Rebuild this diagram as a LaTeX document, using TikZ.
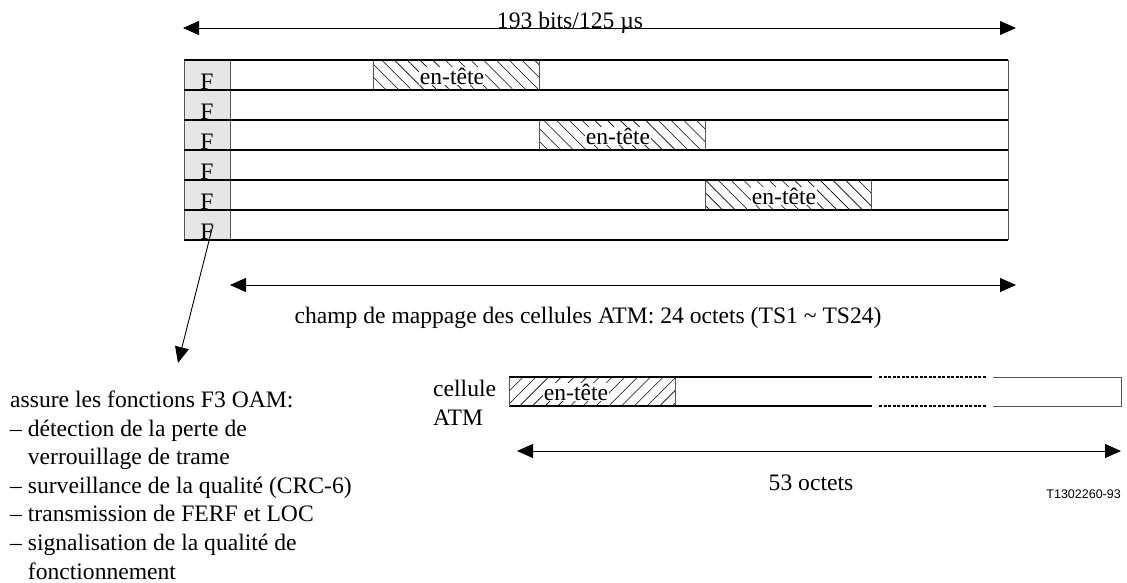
\documentclass[tikz,border=0pt]{standalone}
\usepackage{fontspec}
\setmainfont{Liberation Serif}
\newfontfamily\arialf{Liberation Sans}
\usetikzlibrary{arrows.meta,patterns.meta}
\definecolor{fgray}{HTML}{E6E6E6}
\definecolor{lgray}{HTML}{555555}
\tikzset{
  hline/.style={line width=1.6pt, black},
  vline/.style={line width=1pt, lgray},
  hatchbs/.style={pattern={Lines[angle=-45,distance=9pt,line width=0.6pt]}},
  hatchfs/.style={pattern={Lines[angle=45,distance=9pt,line width=0.6pt]}},
  hbox/.style={line width=0.8pt, lgray},
  lbl/.style={fill=white, inner sep=0.5pt},
  dimarrow/.style={line width=0.9pt, {Triangle[length=16pt,width=14pt]}-{Triangle[length=16pt,width=14pt]}},
  onearrow/.style={line width=0.9pt, -{Triangle[length=16pt,width=14pt]}},
  txt/.style={inner sep=0pt}
}
\begin{document}
\begin{tikzpicture}[x=1pt,y=-1pt, font=\fontsize{23.6}{28.6}\selectfont]
\useasboundingbox (0,0) rectangle (1127,582);

% F column
\fill[fgray] (184,60) rectangle (230,240);
\foreach \i in {0,...,5}{
  \node[txt, anchor=base] (F\i) at (207,{89+30*\i}) {F};
}

% hatched headers in the frame
\fill[hatchbs] (373,60) rectangle (539,90);
\draw[hbox] (373,60) rectangle (539,90);
\node[lbl] (h1) at (452,76) {en-tête};
\fill[hatchbs] (539,120) rectangle (705,150);
\draw[hbox] (539,120) rectangle (705,150);
\node[lbl] (h2) at (618,136) {en-tête};
\fill[hatchbs] (705,180) rectangle (871,210);
\draw[hbox] (705,180) rectangle (871,210);
\node[lbl] (h3) at (784,196) {en-tête};

% frame lines
\draw[vline] (184,60) -- (184,240);
\draw[vline] (230,60) -- (230,240);
\draw[vline] (1008,60) -- (1008,240);
\foreach \y in {60,90,120,150,180,210,240}{
  \draw[hline] (184,\y) -- (1008,\y);
}

% top dimension arrow
\coordinate (tl) at (183,28);
\coordinate (tr) at (1016,28);
\draw[dimarrow] (tl) -- (tr);
\node[txt, anchor=base] (toplbl) at (570,28) {193 bits/125 µs};

% mapping field arrow
\coordinate (ml) at (230,285);
\coordinate (mr) at (1016,285);
\draw[dimarrow] (ml) -- (mr);
\node[txt] (midlbl) at (588,318) {champ de mappage des cellules ATM: 24 octets (TS1 \textasciitilde{} TS24)};

% arrow from last F to OAM text
\coordinate (fstart) at (213,225);
\coordinate (fend) at (178,363);
\draw[onearrow] (fstart) -- (fend);

% OAM text
\node[txt, anchor=base west, align=left] (oam) at (10,579) {assure les fonctions F3 OAM:\\
– détection de la perte de\\
\hphantom{– }verrouillage de trame\\
– surveillance de la qualité (CRC-6)\\
– transmission de FERF et LOC\\
– signalisation de la qualité de\\
\hphantom{– }fonctionnement};

% ATM cell
\node[txt, anchor=base west, align=left] (cell) at (433,425) {cellule\\ATM};
\fill[hatchfs] (509,377) rectangle (675,406);
\draw[hbox] (509,377) rectangle (675,406);
\node[lbl] (h4) at (576,392) {en-tête};
\draw[hline] (509,377) -- (872,377);
\draw[hline] (509,406) -- (872,406);
\draw[line width=1.4pt, dash pattern=on 3pt off 1.5pt] (879,377) -- (987,377);
\draw[line width=1.4pt, dash pattern=on 3pt off 1.5pt] (879,406) -- (987,406);
\draw[vline] (993,377) -- (1121,377) -- (1121,406) -- (993,406);
\draw[vline] (509,377) -- (509,406);

% 53 octets arrow
\coordinate (al) at (517,451);
\coordinate (ar) at (1121,451);
\draw[dimarrow] (al) -- (ar);
\node[txt] (oct) at (811,483) {53 octets};

\node[txt, anchor=east, font=\arialf\fontsize{12.5}{14}\selectfont] (ref) at (1121,494) {T1302260-93};
\end{tikzpicture}
\end{document}
